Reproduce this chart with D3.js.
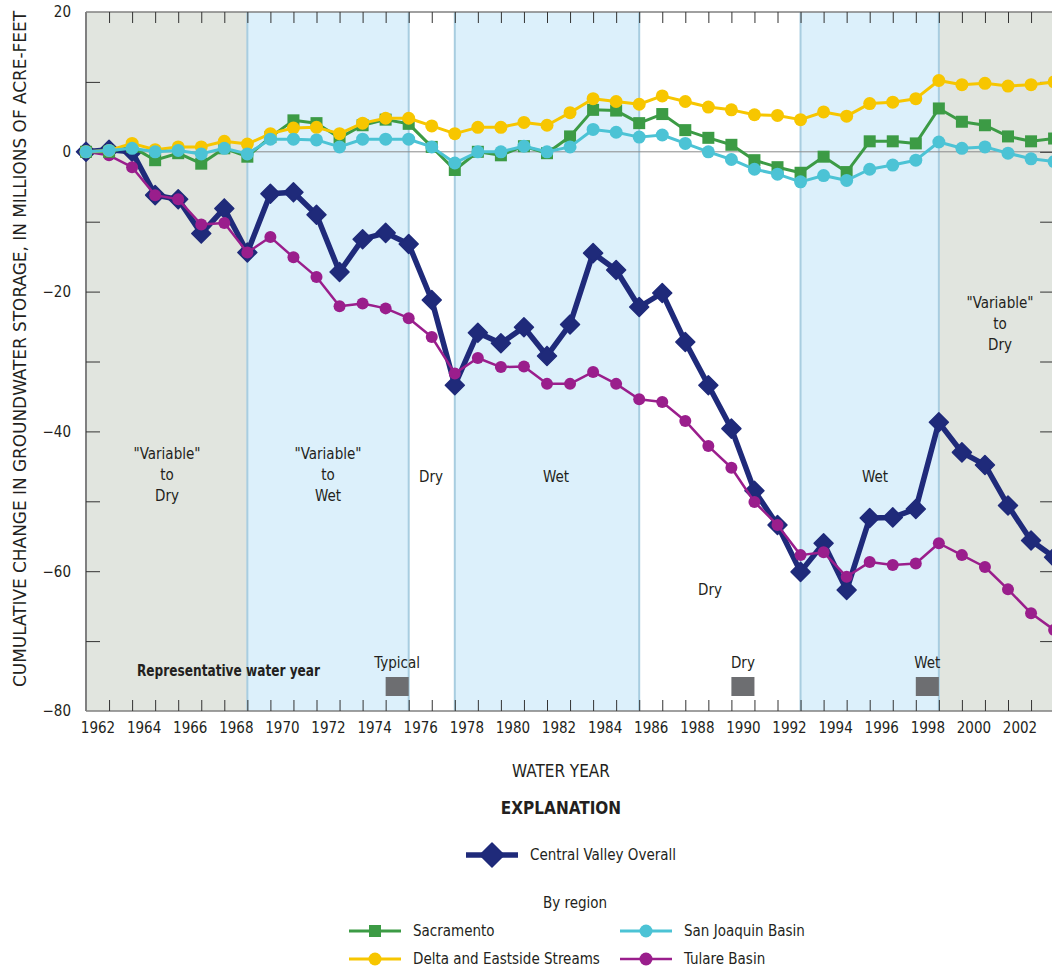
<!DOCTYPE html>
<html><head><meta charset="utf-8">
<script src="https://cdn.jsdelivr.net/npm/d3@7"></script>
<style>
body{margin:0;background:#fff;}
svg{display:block;}
text{font-family:"Liberation Sans Narrow","Arial Narrow","DejaVu Sans Condensed",sans-serif;fill:#231f20;}
</style></head>
<body>
<svg id="c" width="1052" height="972"></svg>
<script>
// ---------- DATA ----------
const years = [1962,1963,1964,1965,1966,1967,1968,1969,1970,1971,1972,1973,1974,1975,1976,1977,1978,1979,1980,1981,1982,1983,1984,1985,1986,1987,1988,1989,1990,1991,1992,1993,1994,1995,1996,1997,1998,1999,2000,2001,2002,2003,2004];
const centralValley = [0,0.3,0,-6.2,-6.8,-11.7,-8.1,-14.4,-6.0,-5.8,-9.0,-17.2,-12.5,-11.6,-13.2,-21.2,-33.4,-25.9,-27.4,-25.1,-29.2,-24.7,-14.5,-16.9,-22.2,-20.2,-27.2,-33.4,-39.6,-48.5,-53.4,-60.1,-56.0,-62.7,-52.4,-52.3,-51.1,-38.7,-43.0,-44.8,-50.6,-55.6,-58.0];
const tulare = [0,-0.5,-2.2,-6.2,-6.8,-10.4,-10.2,-14.4,-12.2,-15.1,-17.9,-22.1,-21.7,-22.4,-23.8,-26.5,-31.7,-29.5,-30.8,-30.7,-33.2,-33.2,-31.5,-33.2,-35.4,-35.8,-38.5,-42.1,-45.2,-50.1,-53.4,-57.7,-57.3,-60.8,-58.7,-59.1,-58.9,-56.0,-57.7,-59.4,-62.6,-66.0,-68.4];
const sacramento = [0,0,0.7,-1.2,-0.2,-1.7,0.5,-0.7,2.1,4.5,4.1,2.0,3.8,4.6,4.0,0.7,-2.6,0,-0.5,0.8,-0.2,2.2,6.0,5.9,4.1,5.4,3.1,2.0,1.0,-1.2,-2.2,-3.0,-0.7,-2.9,1.5,1.5,1.2,6.2,4.3,3.8,2.2,1.5,1.9];
const delta = [0,0.2,1.2,0.3,0.7,0.7,1.5,1.1,2.6,3.4,3.5,2.6,4.1,4.8,4.8,3.7,2.6,3.5,3.5,4.2,3.8,5.6,7.6,7.2,6.8,8.0,7.2,6.4,6.0,5.3,5.2,4.6,5.7,5.1,6.9,7.1,7.6,10.2,9.6,9.8,9.4,9.6,10.0];
const sanJoaquin = [0,0.2,0.5,0,0.2,-0.3,0.5,-0.3,1.8,1.8,1.7,0.7,1.8,1.8,1.8,0.7,-1.6,0,0,0.8,0,0.7,3.2,2.8,2.1,2.4,1.2,0,-1.1,-2.5,-3.2,-4.3,-3.4,-4.1,-2.5,-1.9,-1.2,1.4,0.5,0.7,-0.2,-1.0,-1.4];

// climate periods (water-year boundaries)
const periodStart = [1962,1969,1976,1978,1986,1993,1999];
const periodEnd   = [1969,1976,1978,1986,1993,1999,2004];
const periodType  = ["var","blue","none","blue","none","blue","var"];
const periodLabel = [["\"Variable\"","to","Dry"],["\"Variable\"","to","Wet"],["Dry"],["Wet"],["Dry"],["Wet"],["\"Variable\"","to","Dry"]];

// representative water years
const repYears = [1975,1990,1998];
const repLabels = ["Typical","Dry","Wet"];

const yTicks = [20,0,-20,-40,-60,-80];
const xTickLabels = [1962,1964,1966,1968,1970,1972,1974,1976,1978,1980,1982,1984,1986,1988,1990,1992,1994,1996,1998,2000,2002];

// ---------- CHART ----------
const svg = d3.select("#c");
const L = 86, T = 12, B = 711;
const x = d3.scaleLinear().domain([1962, 2004]).range([L, L + 42*23.05]);
const y = d3.scaleLinear().domain([-80, 20]).range([B, T]);
const R = x(2004);
const FONT = "'Liberation Sans Narrow','Arial Narrow','DejaVu Sans Condensed',sans-serif";

// label placement (pixels) for period labels
const labelPlace = [[167,459],[328,459],[431,482],[556,482],[710,595],[875,482],[1000,308]];

const fillFor = {var:"#e1e5df", blue:"#dcf0fb", none:"#ffffff"};
const bg = svg.append("g");
periodStart.forEach((s,i)=>{
  bg.append("rect").attr("x",x(s)).attr("y",T).attr("width",x(periodEnd[i])-x(s)).attr("height",B-T)
    .attr("fill",fillFor[periodType[i]]);
});
periodStart.slice(1).forEach(s=>{
  bg.append("line").attr("x1",x(s)).attr("x2",x(s)).attr("y1",T).attr("y2",B)
    .attr("stroke","#a8cde0").attr("stroke-width",2);
});
bg.append("line").attr("x1",L).attr("x2",R).attr("y1",y(0)).attr("y2",y(0)).attr("stroke","#8a8a8a").attr("stroke-width",1);

// frame
const fr = svg.append("g").attr("stroke","#808080").attr("fill","none");
fr.append("line").attr("x1",L).attr("x2",R).attr("y1",T).attr("y2",T).attr("stroke-width",1.5);
fr.append("line").attr("x1",L).attr("x2",R).attr("y1",B).attr("y2",B).attr("stroke-width",1.5);
fr.append("line").attr("x1",L).attr("x2",L).attr("y1",T).attr("y2",B).attr("stroke-width",2);
fr.append("line").attr("x1",R).attr("x2",R).attr("y1",T).attr("y2",B).attr("stroke-width",2);

// axes via d3
const yearTicks = years.slice(1, years.length-1);
const gt = svg.append("g").attr("transform",`translate(0,${T})`).call(d3.axisBottom(x).tickValues(yearTicks).tickSize(11).tickFormat(""));
const gb = svg.append("g").attr("transform",`translate(0,${B})`).call(d3.axisTop(x).tickValues(yearTicks).tickSize(11).tickFormat(""));
[gt,gb].forEach(g=>{g.select(".domain").remove(); g.selectAll(".tick line").attr("stroke","#333").attr("stroke-width",1);});

const yMinor = d3.range(-70, 20, 10);
const yl = svg.append("g").attr("transform",`translate(${L},0)`).call(d3.axisRight(y).tickValues(yMinor).tickSize(14).tickFormat(""));
const yr = svg.append("g").attr("transform",`translate(${R},0)`).call(d3.axisLeft(y).tickValues(yMinor).tickSize(14).tickFormat(""));
[yl,yr].forEach(g=>{g.select(".domain").remove(); g.selectAll(".tick line").attr("stroke","#333").attr("stroke-width",1);});

const yLab = svg.append("g").attr("transform",`translate(${L},0)`)
  .call(d3.axisLeft(y).tickValues(yTicks).tickSize(0).tickPadding(15).tickFormat(d=> d<0 ? "\u2212"+Math.abs(d) : d));
yLab.select(".domain").remove();
yLab.selectAll("text").style("font-size","15px").attr("fill","#231f20").style("font-family",FONT);

const xLab = svg.append("g").attr("transform",`translate(0,${B})`)
  .call(d3.axisBottom(x).tickValues(xTickLabels.map(v=>v+0.5)).tickSize(0).tickPadding(11).tickFormat(d=>Math.floor(d)));
xLab.select(".domain").remove();
xLab.selectAll("text").style("font-size","15px").attr("fill","#231f20").style("font-family",FONT);

// period labels
periodLabel.forEach((lines,i)=>{
  const t = svg.append("text").attr("text-anchor","middle").style("font-size","15px");
  lines.forEach((ln,j)=>{
    t.append("tspan").attr("x", labelPlace[i][0]).attr("y", labelPlace[i][1] + j*21).text(ln);
  });
});

// representative water years
repYears.forEach((yr_,i)=>{
  svg.append("rect").attr("x",x(yr_)).attr("y",677).attr("width",x(yr_+1)-x(yr_)).attr("height",19).attr("fill","#6d6e71");
  svg.append("text").attr("x",x(yr_+0.5)).attr("y",668).attr("text-anchor","middle").style("font-size","15px").text(repLabels[i]);
});
svg.append("text").attr("x",137).attr("y",676).style("font-size","15px").style("font-weight","bold")
  .attr("textLength",183).attr("lengthAdjust","spacingAndGlyphs").text("Representative water year");

// series
const series = [
  {name:"Central Valley Overall", vals:centralValley, color:"#1f2a7a", w:5.5, shape:"diamond", size:9.5},
  {name:"Tulare Basin", vals:tulare, color:"#9a1e8c", w:2.5, shape:"circle", size:6},
  {name:"Sacramento", vals:sacramento, color:"#3c9b45", w:3, shape:"square", size:6},
  {name:"Delta and Eastside Streams", vals:delta, color:"#f7c600", w:3, shape:"circle", size:6.5},
  {name:"San Joaquin Basin", vals:sanJoaquin, color:"#4cc3d5", w:3, shape:"circle", size:6.5}
];
const plot = svg.append("g");
const line = d3.line().x(d=>x(d[0])).y(d=>y(d[1]));
function marker(g, shape, cx, cy, s, color){
  if(shape==="circle") g.append("circle").attr("cx",cx).attr("cy",cy).attr("r",s).attr("fill",color);
  else if(shape==="square") g.append("rect").attr("x",cx-s).attr("y",cy-s).attr("width",2*s).attr("height",2*s).attr("fill",color);
  else g.append("path").attr("d",`M${cx},${cy-s}L${cx+s},${cy}L${cx},${cy+s}L${cx-s},${cy}Z`).attr("fill",color).attr("stroke",color).attr("stroke-width",1.5).attr("stroke-linejoin","round");
}
series.forEach(s=>{
  const pts = years.map((yv,i)=>[yv, s.vals[i]]);
  plot.append("path").attr("d",line(pts)).attr("fill","none").attr("stroke",s.color).attr("stroke-width",s.w).attr("stroke-linejoin","round");
  pts.forEach(p=>marker(plot, s.shape, x(p[0]), y(p[1]), s.size, s.color));
});

// titles
svg.append("text").attr("transform",`translate(26,349) rotate(-90)`).attr("text-anchor","middle")
  .style("font-size","17px").attr("textLength",676).attr("lengthAdjust","spacingAndGlyphs")
  .text("CUMULATIVE CHANGE IN GROUNDWATER STORAGE, IN MILLIONS OF ACRE-FEET");
svg.append("text").attr("x",561).attr("y",777).attr("text-anchor","middle").style("font-size","17px").text("WATER YEAR");
svg.append("text").attr("x",561).attr("y",814).attr("text-anchor","middle").style("font-size","17px").style("font-weight","bold").text("EXPLANATION");

// legend
const lg = svg.append("g");
function legendItem(x0, yy, s, label){
  lg.append("line").attr("x1",x0).attr("x2",x0+52).attr("y1",yy).attr("y2",yy).attr("stroke",s.color).attr("stroke-width",s.w);
  marker(lg, s.shape, x0+26, yy, s.shape==="diamond"?12:(s.shape==="square"?6:6.5), s.color);
  lg.append("text").attr("x",x0+64).attr("y",yy+5).style("font-size","15px").text(label);
}
legendItem(466, 855, series[0], "Central Valley Overall");
lg.append("text").attr("x",575).attr("y",908).attr("text-anchor","middle").style("font-size","15px").text("By region");
legendItem(349, 931, series[2], "Sacramento");
legendItem(349, 959, series[3], "Delta and Eastside Streams");
legendItem(620, 931, series[4], "San Joaquin Basin");
legendItem(620, 959, series[1], "Tulare Basin");
</script>
</body></html>
